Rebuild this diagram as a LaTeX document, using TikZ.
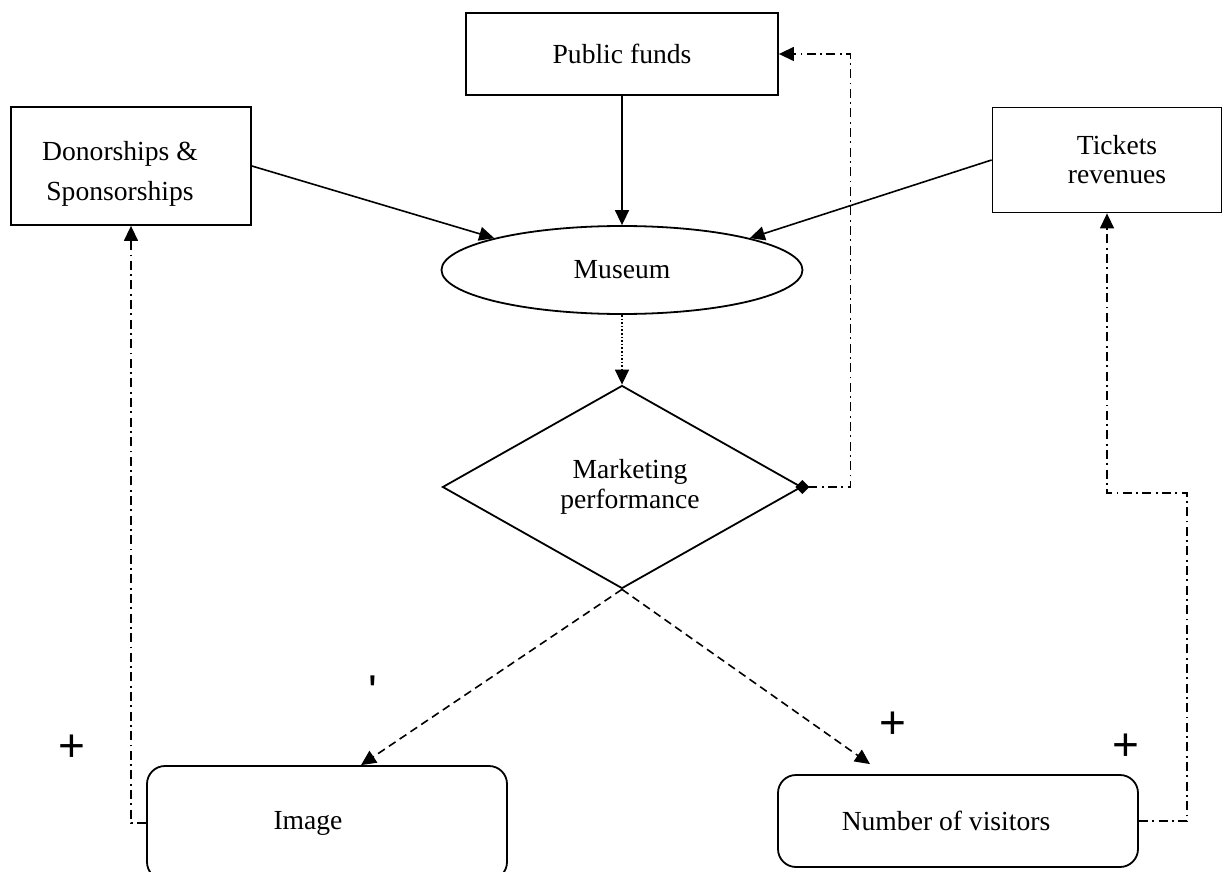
\documentclass[tikz,border=0pt]{standalone}
\usepackage{fontspec}
\setmainfont{Liberation Serif}
\newfontfamily\plusfont{Liberation Sans}[Ligatures=TeXOff]
\usetikzlibrary{arrows.meta,shapes.geometric}

\tikzset{
  box/.style={draw,line width=0.9pt,inner sep=0pt,align=center},
  rbox/.style={box,rounded corners=9pt},
  sign/.style={font=\plusfont\fontsize{23}{23}\selectfont,inner sep=0pt},
  link/.style={line width=0.8pt,-{Triangle[length=7.5pt,width=7pt]}},
  feedback/.style={link,line width=0.7pt,dash pattern=on 4.5pt off 2.2pt on 0.9pt off 2.2pt},
}

\begin{document}
\begin{tikzpicture}[x=0.5pt,y=-0.5pt,font=\fontsize{13.8}{15}\selectfont]
  \useasboundingbox (0,0) rectangle (1222,872);

  \begin{scope}[every node/.style={box}]
    \node[minimum width=156pt,minimum height=41pt] (funds) at (622,54) {Public funds};
    \node[minimum width=120pt,minimum height=59pt,font=\fontsize{13.8}{20}\selectfont] (donors) at (131,166) {\rule{0pt}{17pt}\hspace*{-11pt}Donorships \&\\\hspace*{-11pt}Sponsorships};
    \node[minimum width=114.5pt,minimum height=52.5pt,font=\fontsize{13.8}{14.5}\selectfont] (tickets) at (1107,160) {\hspace*{10pt}Tickets\\\hspace*{10pt}revenues};
    \node[ellipse,minimum width=180.5pt,minimum height=44pt] (museum) at (622,270) {Museum};
    \node[diamond,aspect=1.77,minimum width=179.5pt,minimum height=101.5pt] (perf) at (622,487) {\hspace*{8pt}Marketing\\\hspace*{8pt}performance};
  \end{scope}

  \begin{scope}[every node/.style={rbox}]
    \node[minimum width=180pt,minimum height=57pt] (image) at (327,823) {\hspace*{-19pt}Image};
    \node[minimum width=180pt,minimum height=46pt] (visitors) at (958,821) {\hspace*{-12pt}Number of visitors};
  \end{scope}

  \begin{scope}[every node/.style={sign}]
    \node (plusimage) at (72,748) {+};
    \node (plusvisitors) at (893,725) {+};
    \node (plustickets) at (1126,747) {+};
    \node (tickimage) at (373,692) {'};
  \end{scope}

  % into the museum
  \path[link] (funds) edge (museum)
              (donors.east) edge (museum.166)
              (tickets.west) edge (museum.14);
  \path[link,densely dotted] (museum) edge (perf);
  \path[link,dash pattern=on 4pt off 2.5pt] (perf.south) edge ([xshift=17pt]image.north)
              (perf.south) edge ([xshift=-44pt,yshift=5pt]visitors.north);

  % feedback loops
  \draw[feedback,{Diamond[length=7pt,width=7pt]}-{Triangle[length=7.5pt,width=7pt]},shorten <=-3.5pt]
    (perf.east) -- ++(48,0) |- (funds.east);
  \draw[feedback] (image.west) -| (donors.south);
  \draw[feedback] (visitors.east) -- ++(48,0) -- ++(0,-328) -| (tickets.south);

\end{tikzpicture}
\end{document}
